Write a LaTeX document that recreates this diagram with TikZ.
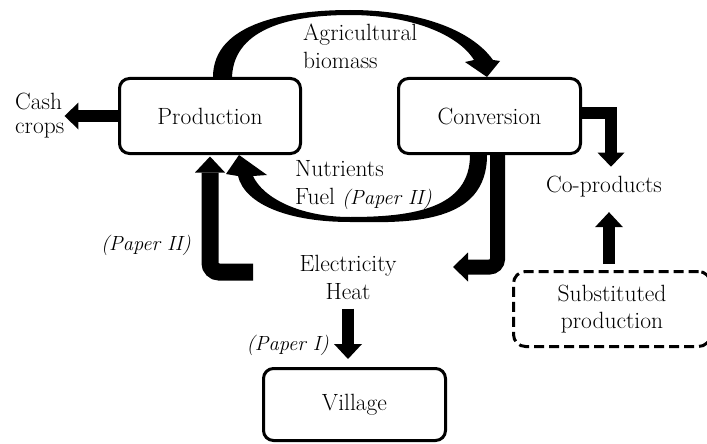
\documentclass[tikz,border=0pt]{standalone}
\usepackage{fontspec}
\setmainfont{Latin Modern Roman}
\usetikzlibrary{arrows.meta,calc}
\newcommand{\pap}[1]{{\fontsize{20.5}{28}\selectfont\itshape #1}}
\begin{document}
\begin{tikzpicture}[x=1pt,y=-1pt,
  every node/.style={font=\fontsize{23.5}{28}\selectfont},
  lbl/.style={inner sep=0pt},
  box/.style={draw, line width=3pt, rounded corners=10pt, inner sep=0pt, align=center},
  dbox/.style={box, dash pattern=on 10pt off 5pt, rounded corners=12pt},
  fatA/.style={line width=12pt, -{Triangle[length=14pt,width=27pt,line width=0pt]}},
  fatB/.style={line width=12pt, -{Triangle[length=15pt,width=28pt,line width=0pt]}},
  fatJ/.style={line width=15pt, rounded corners=8pt, -{Triangle[length=15pt,width=29pt,line width=0pt]}},
  fatL/.style={line width=17pt, rounded corners=9pt, -{Triangle[length=16pt,width=30pt,line width=0pt]}}
]
\fill[white] (0,0) rectangle (707,444);
\useasboundingbox (0,0) rectangle (707,444);

% boxes
\node[box, minimum width=181pt, minimum height=75pt] (prod) at (210,116) {Production};
\node[box, minimum width=182pt, minimum height=75pt] (conv) at (489.5,116) {Conversion};
\node[box, minimum width=182pt, minimum height=72pt] (village) at (354.5,404.5) {Village};
\node[dbox, minimum width=197pt, minimum height=75pt] (subst) at (612,309) {Substituted\\[-1pt]production};

% labels
\node[lbl, align=left, anchor=north west] (agri) at (303,23.7) {Agricultural\\biomass};
\node[lbl, align=left, anchor=north west] (nutr) at (295,160) {Nutrients\\Fuel \pap{(Paper II)}};
\node[lbl, align=center, anchor=north] (elec) at (348,254.7) {Electricity\\Heat};
\node[lbl, align=left, anchor=north west, font=\fontsize{23.5}{24}\selectfont] (cash) at (15,92.7) {Cash\\crops};
\node[lbl, anchor=base] (coprod) at (604,192) {Co-products};
\node[lbl, anchor=base east] (p1) at (329,350) {\pap{(Paper I)}};
\node[lbl, anchor=base east] (p2) at (191,250) {\pap{(Paper II)}};

% top crescent: agricultural biomass
\fill ($(prod.north)+(3,0)$) .. controls (213,22) and (290,10) .. (350,10)
  .. controls (415,10) and (470,28) .. (493,60)
  -- (500,61) -- ($(conv.north)+(-2.5,0)$) -- (465,62) -- (474,60)
  .. controls (458,34) and (410,15) .. (350,15)
  .. controls (296,15) and (234,26) .. ($(prod.north)+(22,0)$) -- cycle;

% bottom crescent: nutrients, fuel
\fill ($(conv.south)+(-2.5,0)$) .. controls (487,224) and (410,223) .. (350,222)
  .. controls (290,222) and (245,205) .. (238,176)
  -- (226,174) -- ($(prod.south)+(29,0)$) -- (267,175) -- (253,176)
  .. controls (263,198) and (300,217) .. (350,217)
  .. controls (414,217) and (470,208) .. ($(conv.south)+(-19.5,0)$) -- cycle;

% cash crops
\draw[fatA] (prod.west) -- (prod.west -| cash.east);

% co-products
\draw[fatA, shorten >=8.7pt] ([yshift=3pt]conv.east) -| ([xshift=7pt]coprod.north);
\coordinate (sn) at ([xshift=-3pt,yshift=6pt]subst.north);
\draw[fatB, shorten >=15.4pt] (sn) -- (sn |- coprod.south);

% electricity to village
\coordinate (ea) at ([yshift=-9pt]elec.south);
\draw[fatB, shorten >=8pt] (ea) -- (ea |- village.north);

% J arrow from conversion
\coordinate (jtip) at (453,267);
\draw[fatJ] ([xshift=8pt]conv.south) |- (jtip);

% L arrow into production
\coordinate (lstart) at (253,272);
\draw[fatL, shorten >=1.5pt] (lstart) -| (prod.south);
\end{tikzpicture}
\end{document}
